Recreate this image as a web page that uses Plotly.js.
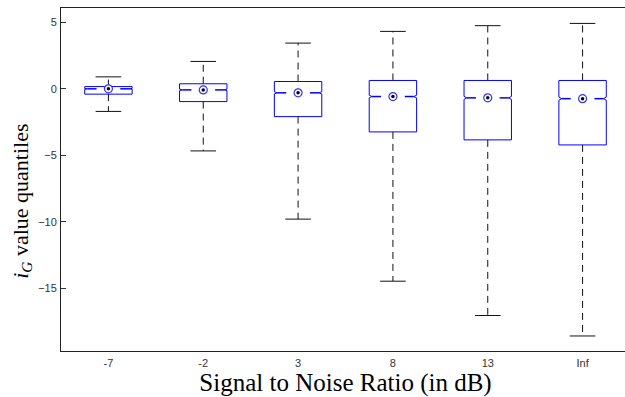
<!DOCTYPE html>
<html>
<head>
<meta charset="utf-8">
<script src="https://cdn.plot.ly/plotly-3.0.1.min.js"></script>
<style>html,body{margin:0;padding:0;overflow:hidden;background:#fff}</style>
</head>
<body>
<div id="chart"></div>
<script>
// SNR groups and their box-plot statistics
const snrLabels    = ['-7', '-2', '3', '8', '13', 'Inf'];
const upperWhisker = [0.90, 2.06, 3.44, 4.32, 4.75, 4.92];
const upperQuart   = [0.17, 0.38, 0.55, 0.63, 0.63, 0.63];
const medians      = [0.00, -0.08, -0.30, -0.58, -0.68, -0.74];
const lowerQuart   = [-0.40, -0.96, -2.09, -3.24, -3.84, -4.22];
const lowerWhisker = [-1.70, -4.67, -9.80, -14.47, -17.05, -18.59];
const notchLow     = [-0.03, -0.14, -0.38, -0.68, -0.79, -0.86];
const notchHigh    = [0.03, -0.02, -0.22, -0.48, -0.57, -0.62];

const yTicks = [-15, -10, -5, 0, 5];

// geometry of each box, in x-axis units
const boxHalf = 0.25, capHalf = 0.135, notchDepth = 0.03, medGap = 0.125;
const pos = snrLabels.map((_, i) => i + 1);

const boxX = [], boxY = [], medX = [], medY = [];
const whiskX = [], whiskY = [], capX = [], capY = [];
pos.forEach((c, i) => {
  const l = c - boxHalf, r = c + boxHalf;
  boxX.push(l, l, l + notchDepth, l, l, r, r, r - notchDepth, r, r, l, null);
  boxY.push(lowerQuart[i], notchLow[i], medians[i], notchHigh[i], upperQuart[i],
            upperQuart[i], notchHigh[i], medians[i], notchLow[i], lowerQuart[i], lowerQuart[i], null);
  medX.push(l + notchDepth, c - medGap, null, c + medGap, r - notchDepth, null);
  medY.push(medians[i], medians[i], null, medians[i], medians[i], null);
  whiskX.push(c, c, null, c, c, null);
  whiskY.push(upperQuart[i], upperWhisker[i], null, lowerQuart[i], lowerWhisker[i], null);
  capX.push(c - capHalf, c + capHalf, null, c - capHalf, c + capHalf, null);
  capY.push(upperWhisker[i], upperWhisker[i], null, lowerWhisker[i], lowerWhisker[i], null);
});

const traces = [
  { x: whiskX, y: whiskY, mode: 'lines', line: { color: '#111', width: 1, dash: '7px,5px' }, hoverinfo: 'skip' },
  { x: capX, y: capY, mode: 'lines', line: { color: '#111', width: 1 }, hoverinfo: 'skip' },
  { x: boxX, y: boxY, mode: 'lines', line: { color: '#0000ff', width: 1 }, hoverinfo: 'skip' },
  { x: medX, y: medY, mode: 'lines', line: { color: '#0000ff', width: 1.5 }, hoverinfo: 'skip' },
  { x: pos, y: medians, mode: 'markers',
    marker: { symbol: 'circle', size: 8, color: '#fff', line: { color: '#3333ff', width: 1.2 } }, hoverinfo: 'skip' },
  { x: pos, y: medians, mode: 'markers',
    marker: { symbol: 'circle', size: 3.5, color: '#000' }, hoverinfo: 'skip' }
];

const layout = {
  width: 630, height: 397,
  margin: { l: 61, r: 0, t: 8, b: 46 },
  paper_bgcolor: '#fff', plot_bgcolor: '#fff',
  showlegend: false,
  xaxis: {
    range: [0.5, 6.5], tickvals: pos, ticktext: snrLabels,
    showgrid: false, zeroline: false, ticks: '',
    showline: true, mirror: true, linecolor: '#222', linewidth: 1,
    ticklabelstandoff: 2,
    tickfont: { family: 'Liberation Sans, Arial, sans-serif', size: 11, color: '#333' },
    title: { text: 'Signal to Noise Ratio (in dB)', standoff: 1,
             font: { family: 'Liberation Serif, serif', size: 25, color: '#000' } }
  },
  yaxis: {
    range: [-19.72, 6.08], tickvals: yTicks,
    showgrid: false, zeroline: false,
    ticks: 'inside', ticklen: 5, tickcolor: '#333',
    showline: true, mirror: 'ticks', linecolor: '#222', linewidth: 1,
    ticklabelstandoff: 1,
    tickfont: { family: 'Liberation Sans, Arial, sans-serif', size: 11, color: '#333' }
  },
  annotations: [{
    text: '<i>i</i><sub><i>G</i></sub> value quantiles',
    textangle: -90, showarrow: false,
    xref: 'paper', yref: 'paper', x: -0.069, y: 0.437,
    xanchor: 'center', yanchor: 'middle',
    font: { family: 'Liberation Serif, serif', size: 22, color: '#000' }
  }]
};

Plotly.newPlot('chart', traces, layout, { staticPlot: true, displayModeBar: false });
</script>
</body>
</html>
